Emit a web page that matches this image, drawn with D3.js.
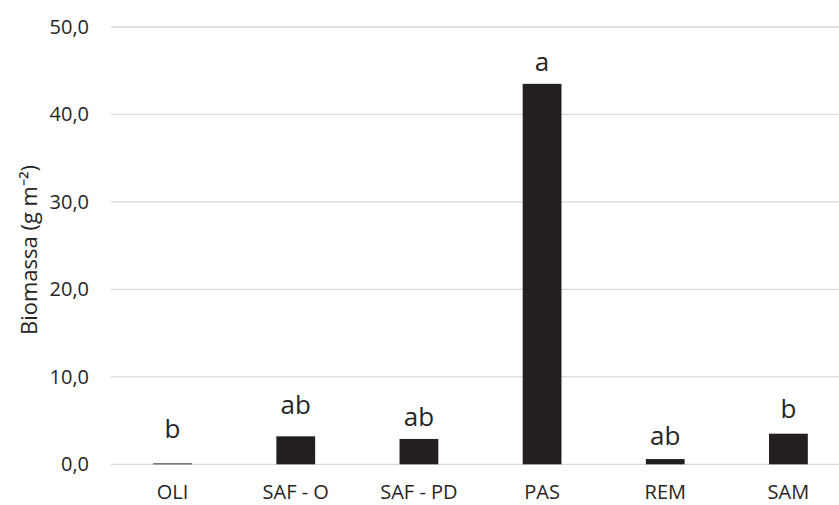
<!DOCTYPE html>
<html>
<head>
<meta charset="utf-8">
<script src="https://cdn.jsdelivr.net/npm/d3@7"></script>
<style>
  body { margin: 0; background: #fff; }
  svg { display: block; font-family: 'Open Sans', sans-serif; }
</style>
</head>
<body>
<svg width="839" height="505"></svg>
<script>
const categories = ['OLI', 'SAF - O', 'SAF - PD', 'PAS', 'REM', 'SAM'];
const biomass = [0.1, 3.2, 2.9, 43.5, 0.6, 3.5];
const letters = ['b', 'ab', 'ab', 'a', 'ab', 'b'];
// level (in g m-2) where each letter sits
const letterAt = [3.0, 5.75, 4.4, 45.0, 2.2, 5.3];
const yTicks = [0, 10, 20, 30, 40, 50];

const svg = d3.select('svg');
const textColor = '#262626';

const x = d3.scaleBand()
  .domain(categories)
  .range([111, 850])
  .paddingInner(0.685)
  .paddingOuter(0.3425);

const y = d3.scaleLinear()
  .domain([0, 50])
  .range([464.3, 27]);

const fmt = d => d3.format('.1f')(d).replace('.', ',');

// gridlines
svg.append('g')
  .selectAll('line')
  .data(yTicks)
  .join('line')
  .attr('x1', 111)
  .attr('x2', 850)
  .attr('y1', d => y(d))
  .attr('y2', d => y(d))
  .attr('stroke', '#d9d9d9')
  .attr('stroke-width', 1.3);

// y axis labels
const yAxis = svg.append('g')
  .attr('transform', 'translate(111,0)')
  .call(d3.axisLeft(y).tickValues(yTicks).tickFormat(fmt).tickSize(0).tickPadding(22));
yAxis.select('.domain').remove();
yAxis.selectAll('text')
  .attr('fill', textColor)
  .style('font-size', '20px')
  .style('font-family', 'Open Sans, sans-serif');

// x axis labels
const xAxis = svg.append('g')
  .attr('transform', 'translate(0,464.3)')
  .call(d3.axisBottom(x).tickSize(0).tickPadding(21));
xAxis.select('.domain').remove();
xAxis.selectAll('text')
  .attr('fill', textColor)
  .style('font-size', '20px')
  .style('font-family', 'Open Sans, sans-serif');

// bars
svg.append('g')
  .selectAll('rect')
  .data(categories)
  .join('rect')
  .attr('x', d => x(d))
  .attr('width', x.bandwidth())
  .attr('y', (d, i) => y(biomass[i]))
  .attr('height', (d, i) => y(0) - y(biomass[i]))
  .attr('fill', '#231f20');

// significance letters
svg.append('g')
  .selectAll('text')
  .data(categories)
  .join('text')
  .attr('x', d => x(d) + x.bandwidth() / 2)
  .attr('y', (d, i) => y(letterAt[i]))
  .attr('text-anchor', 'middle')
  .attr('fill', textColor)
  .style('font-size', '26px')
  .text((d, i) => letters[i]);

// y axis title
svg.append('text')
  .attr('transform', 'translate(37,250) rotate(-90)')
  .attr('text-anchor', 'middle')
  .attr('fill', textColor)
  .style('font-size', '22px')
  .text('Biomassa (g m⁻²)');
</script>
</body>
</html>
